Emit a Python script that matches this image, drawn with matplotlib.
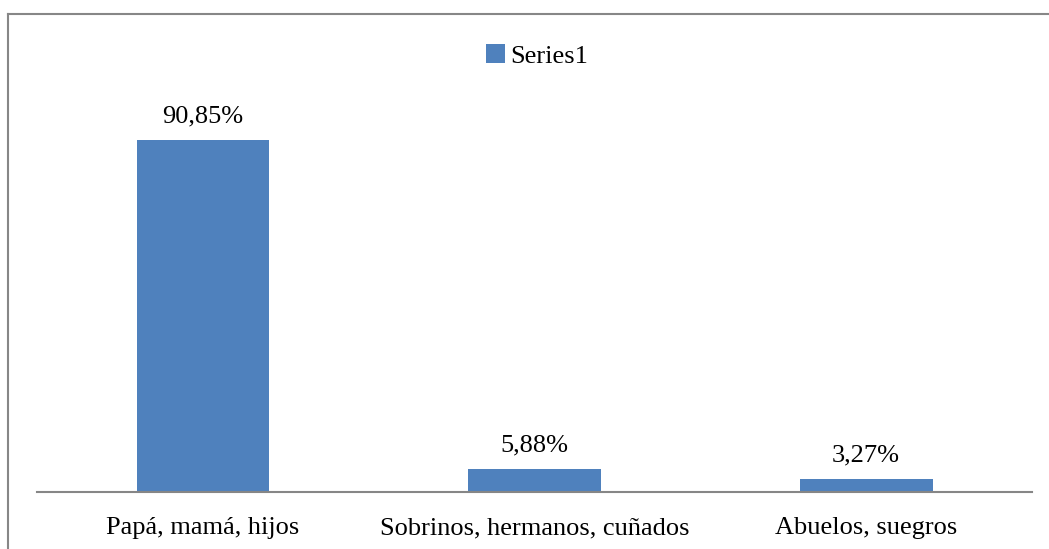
import numpy as np
import matplotlib
matplotlib.use("Agg")
import matplotlib.pyplot as plt
from matplotlib.lines import Line2D
from matplotlib.patches import Patch

categories = ["Papá, mamá, hijos", "Sobrinos, hermanos, cuñados", "Abuelos, suegros"]
values = [90.85, 5.88, 3.27]
labels = ["90,85%", "5,88%", "3,27%"]
series_name = "Series1"

plt.rcParams['font.family'] = ['Liberation Serif', 'DejaVu Serif']
bar_color = "#4F81BD"

fig = plt.figure(figsize=(10.49, 5.49), dpi=100)
ax = fig.add_axes([37 / 1049, 57 / 549, 995 / 1049, 472 / 549])

x = np.arange(len(categories))
bars = ax.bar(x, values, width=0.4, color=bar_color)
ax.set_xlim(-0.5, len(categories) - 0.5)
ax.set_ylim(0, 121.8)

for b, lab in zip(bars, labels):
    ax.annotate(lab, (b.get_x() + b.get_width() / 2, b.get_height()),
                xytext=(0, 9), textcoords="offset points",
                ha="center", va="bottom", fontsize=19, color="black")

ax.set_xticks(x)
ax.set_xticklabels(categories, fontsize=19)
ax.tick_params(axis="x", length=0, pad=18)
ax.set_yticks([])
for s in ["top", "right", "left"]:
    ax.spines[s].set_visible(False)
ax.spines["bottom"].set_color("#868686")
ax.spines["bottom"].set_linewidth(1.5)

# legend at top centre
handle = Patch(facecolor=bar_color, edgecolor="none")
fig.legend([handle], [series_name], loc="center", bbox_to_anchor=(537 / 1049, 1 - 56 / 549),
           frameon=False, fontsize=19, handlelength=0.7, handleheight=0.7,
           handletextpad=0.2, borderpad=0)

# chart area border (cropped on right and bottom)
fig.add_artist(Line2D([7.5 / 1049, 7.5 / 1049], [0, 1 - 14 / 549], transform=fig.transFigure,
                      color="#878787", linewidth=1.5))
fig.add_artist(Line2D([7.5 / 1049, 1], [1 - 14 / 549, 1 - 14 / 549], transform=fig.transFigure,
                      color="#878787", linewidth=1.5))

fig.savefig("out.png", dpi=100)
